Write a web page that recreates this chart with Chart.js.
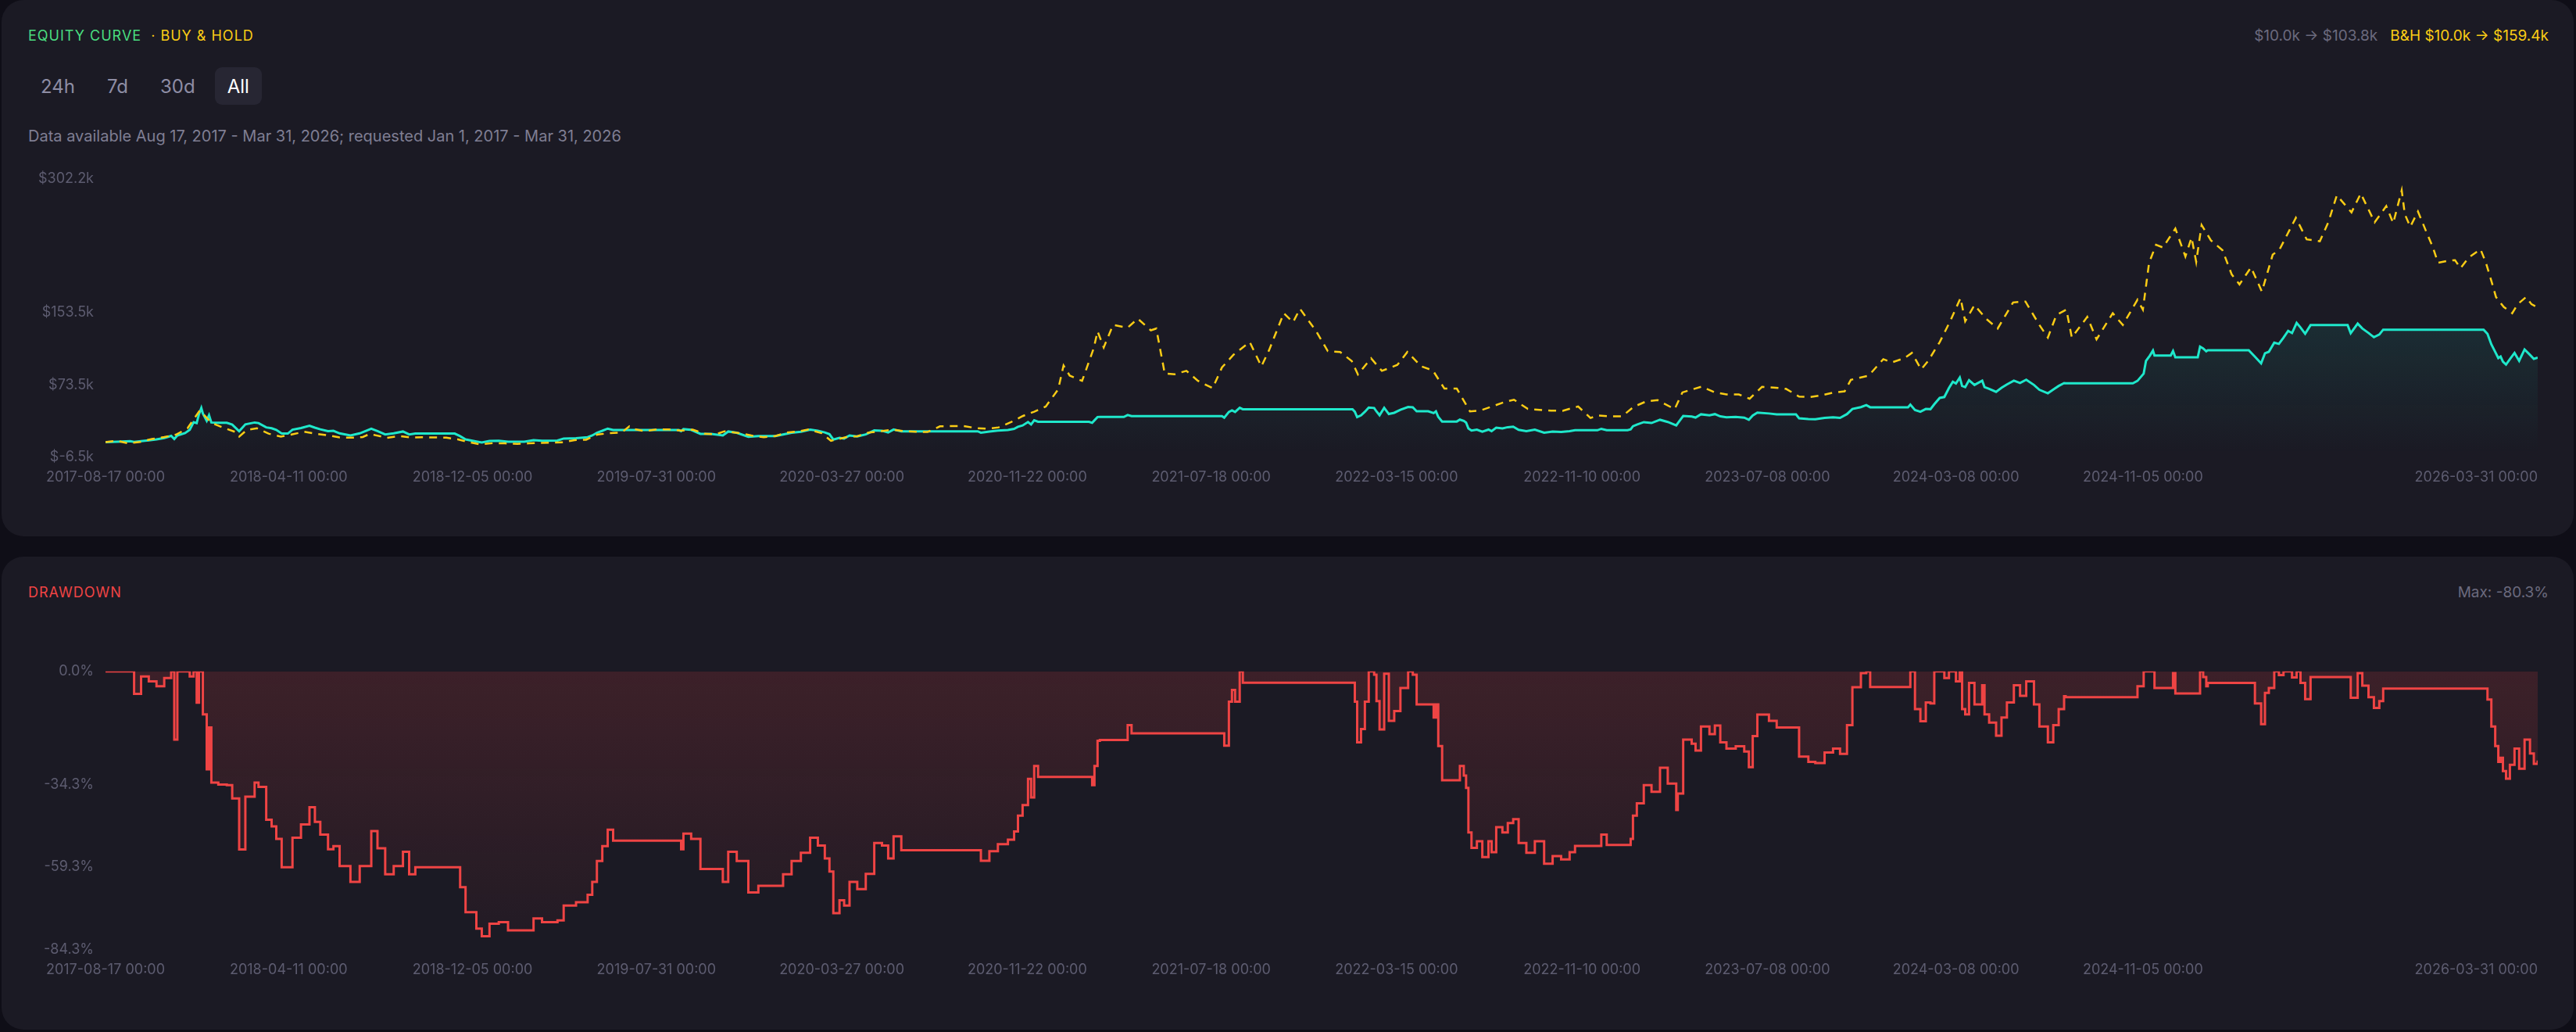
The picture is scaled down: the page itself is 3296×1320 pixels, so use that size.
<!DOCTYPE html>
<html>
<head>
<meta charset="utf-8">
<title>Equity curve</title>
<script src="https://cdn.jsdelivr.net/npm/chart.js@4.4.1/dist/chart.umd.min.js"></script>
<style>
  html, body { margin: 0; padding: 0; background: #0f0e17; }
  body { width: 3296px; height: 1320px; position: relative; overflow: hidden; font-family: Inter, "Noto Sans", sans-serif; }
  .panel { position: absolute; left: 2px; width: 3291px; background: #1b1a24; border-radius: 28px; }
  #equityPanel { top: 0; height: 686px; }
  #drawdownPanel { top: 712px; height: 605px; }
  .head { position: absolute; left: 34px; right: 32px; top: 34px; height: 24px; line-height: 24px; display: flex; justify-content: space-between; font-size: 18px; }
  .title { letter-spacing: 1px; }
  .stats { font-size: 19px; }
  .green { color: #4ade80; }
  .yellow { color: #facc15; }
  .red { color: #ef4444; }
  .muted { color: #6b6a7e; }
  .stats span + span { margin-left: 16px; }
  .dot { margin-left: 12px; }
  .ranges { position: absolute; left: 34px; top: 86px; display: flex; }
  .ranges button { height: 48px; padding: 0 16px; margin-right: 9px; border: 0; border-radius: 9px; background: transparent; color: #8e8da4; font: 24px Inter, sans-serif; }
  .ranges button.on { background: #272633; color: #ffffff; }
  .note { position: absolute; left: 34px; top: 161px; font-size: 20px; line-height: 26px; color: #7f7e93; }
  .chart { position: absolute; left: 34px; width: 3226px; }
  #equityBox { top: 203px; height: 433px; }
  #drawdownBox { top: 121px; height: 433px; }
</style>
</head>
<body>
<div class="panel" id="equityPanel">
  <div class="head">
    <div class="title"><span class="green">EQUITY CURVE</span><span class="yellow dot">· BUY &amp; HOLD</span></div>
    <div class="stats"><span class="muted">$10.0k → $103.8k</span><span class="yellow">B&amp;H $10.0k → $159.4k</span></div>
  </div>
  <div class="ranges"><button>24h</button><button>7d</button><button>30d</button><button class="on">All</button></div>
  <div class="note">Data available Aug 17, 2017 - Mar 31, 2026; requested Jan 1, 2017 - Mar 31, 2026</div>
  <div class="chart" id="equityBox"><canvas id="equityChart"></canvas></div>
</div>
<div class="panel" id="drawdownPanel">
  <div class="head">
    <div class="title red">DRAWDOWN</div>
    <div class="stats"><span class="muted">Max: -80.3%</span></div>
  </div>
  <div class="chart" id="drawdownBox"><canvas id="drawdownChart"></canvas></div>
</div>
<script>
// strategy equity (k$) and its drawdown (%), same dates
const dates = [
  '2017-08-17','2017-09-01','2017-09-18','2017-09-23','2017-10-02','2017-10-12','2017-10-22','2017-11-01','2017-11-10','2017-11-14',
  '2017-11-18','2017-11-28','2017-12-04','2017-12-09','2017-12-13','2017-12-16','2017-12-19','2017-12-21','2017-12-26','2017-12-29',
  '2018-01-01','2018-01-10','2018-01-21','2018-01-28','2018-02-06','2018-02-14','2018-02-26','2018-03-03','2018-03-13','2018-03-20',
  '2018-03-26','2018-04-02','2018-04-10','2018-04-16','2018-04-27','2018-05-08','2018-05-15','2018-05-22','2018-06-01','2018-06-08',
  '2018-06-16','2018-06-30','2018-07-12','2018-07-27','2018-08-04','2018-08-14','2018-08-25','2018-09-06','2018-09-14','2018-09-22',
  '2018-11-12','2018-11-19','2018-11-26','2018-12-10','2018-12-17','2018-12-27','2019-01-08','2019-01-20','2019-02-10','2019-02-22',
  '2019-03-05','2019-03-25','2019-04-02','2019-04-18','2019-05-03','2019-05-09','2019-05-15','2019-05-22','2019-05-29','2019-06-05',
  '2019-08-29','2019-09-01','2019-09-04','2019-09-14','2019-09-26','2019-10-10','2019-10-25','2019-11-01','2019-11-12','2019-11-27',
  '2019-12-10','2020-01-01','2020-01-11','2020-01-22','2020-02-03','2020-02-15','2020-02-25','2020-03-05','2020-03-11','2020-03-16',
  '2020-03-24','2020-03-30','2020-04-06','2020-04-16','2020-04-27','2020-05-08','2020-05-18','2020-05-26','2020-06-02','2020-06-12',
  '2020-09-19','2020-09-23','2020-10-04','2020-10-15','2020-10-28','2020-11-05','2020-11-10','2020-11-16','2020-11-23','2020-11-27',
  '2020-12-01','2020-12-06','2021-02-10','2021-02-14','2021-02-17','2021-02-21','2021-02-24','2021-03-27','2021-04-01','2021-04-06',
  '2021-08-01','2021-08-04','2021-08-10','2021-08-14','2021-08-18','2021-08-24','2021-08-28','2022-01-17','2022-01-20','2022-01-23',
  '2022-01-28','2022-02-02','2022-02-07','2022-02-14','2022-02-17','2022-02-21','2022-02-27','2022-03-05','2022-03-12','2022-03-20',
  '2022-03-30','2022-04-05','2022-04-10','2022-04-25','2022-05-02','2022-05-05','2022-05-08','2022-05-13','2022-06-01','2022-06-05',
  '2022-06-10','2022-06-13','2022-06-16','2022-06-20','2022-06-27','2022-07-04','2022-07-12','2022-07-16','2022-07-22','2022-07-30',
  '2022-08-06','2022-08-13','2022-08-20','2022-08-30','2022-09-10','2022-09-22','2022-10-03','2022-10-14','2022-10-25','2022-11-01',
  '2022-11-30','2022-12-05','2022-12-12','2023-01-08','2023-01-12','2023-01-15','2023-01-20','2023-01-29','2023-02-08','2023-02-19',
  '2023-03-01','2023-03-12','2023-03-14','2023-03-21','2023-04-01','2023-04-06','2023-04-13','2023-04-24','2023-05-01','2023-05-08',
  '2023-05-16','2023-05-28','2023-06-08','2023-06-14','2023-06-19','2023-06-25','2023-07-10','2023-07-20','2023-08-14','2023-08-18',
  '2023-08-30','2023-09-08','2023-09-20','2023-10-01','2023-10-10','2023-10-19','2023-10-26','2023-11-06','2023-11-13','2023-11-18',
  '2024-01-06','2024-01-09','2024-01-15','2024-01-22','2024-01-29','2024-02-04','2024-02-09','2024-02-16','2024-02-22','2024-02-28',
  '2024-03-04','2024-03-08','2024-03-13','2024-03-16','2024-03-20','2024-03-25','2024-04-01','2024-04-11','2024-04-14','2024-04-20',
  '2024-04-29','2024-05-06','2024-05-13','2024-05-22','2024-05-30','2024-06-07','2024-06-17','2024-06-24','2024-07-05','2024-07-12',
  '2024-07-19','2024-07-26','2024-07-28','2024-10-23','2024-10-29','2024-11-06','2024-11-09','2024-11-14','2024-11-18','2024-11-20',
  '2024-12-11','2024-12-14','2024-12-17','2025-01-15','2025-01-18','2025-01-22','2025-01-26','2025-01-28','2025-03-22','2025-03-30',
  '2025-04-07','2025-04-12','2025-04-17','2025-04-24','2025-04-30','2025-05-06','2025-05-12','2025-05-17','2025-05-23','2025-05-28',
  '2025-06-03','2025-06-10','2025-07-28','2025-08-01','2025-08-10','2025-08-16','2025-08-24','2025-08-31','2025-09-07','2025-09-12',
  '2026-01-20','2026-01-25','2026-01-30','2026-02-04','2026-02-08','2026-02-11','2026-02-14','2026-02-18','2026-02-23','2026-03-01',
  '2026-03-07','2026-03-14','2026-03-21','2026-03-26','2026-03-31'
];
const equity = [
  10.0, 10.4, 10.9, 10.2, 11.0, 11.9, 12.9, 14.5, 16.9, 13.4,
  17.3, 20.0, 23.5, 32.0, 31.0, 41.0, 47.8, 41.6, 33.6, 39.7,
  31.7, 31.4, 31.3, 29.4, 22.0, 29.6, 31.7, 31.1, 26.3, 25.3,
  23.5, 19.4, 19.4, 23.7, 25.6, 28.1, 26.0, 24.1, 22.0, 22.5,
  19.6, 17.3, 19.6, 24.7, 22.2, 18.4, 19.6, 21.7, 18.4, 19.4,
  19.4, 16.5, 12.9, 10.5, 9.4, 11.2, 11.5, 10.3, 10.3, 12.0,
  11.5, 11.7, 13.9, 14.3, 15.4, 17.3, 20.3, 22.5, 24.9, 23.3,
  23.3, 22.0, 24.3, 23.5, 19.1, 19.1, 17.3, 21.7, 20.3, 15.8,
  16.7, 16.7, 18.4, 20.3, 21.5, 23.7, 22.6, 20.7, 18.8, 12.8,
  14.6, 13.9, 17.3, 16.3, 18.5, 22.9, 22.6, 20.7, 23.9, 21.9,
  21.9, 20.4, 21.7, 22.8, 23.4, 24.6, 26.9, 28.4, 32.2, 29.5,
  34.1, 32.5, 32.5, 31.3, 34.1, 37.8, 37.9, 37.9, 40.0, 38.8,
  38.8, 37.0, 43.4, 45.1, 43.4, 48.0, 46.4, 46.4, 43.6, 37.7,
  39.6, 43.6, 48.3, 47.8, 44.0, 39.8, 48.0, 41.1, 42.5, 45.9,
  49.0, 48.5, 44.1, 44.1, 42.1, 44.1, 37.9, 32.8, 32.8, 34.9,
  33.5, 31.7, 25.1, 22.8, 23.8, 21.4, 23.8, 22.1, 25.9, 25.1,
  26.5, 27.0, 23.5, 22.0, 23.8, 20.4, 21.6, 21.1, 22.1, 23.1,
  23.1, 24.7, 23.2, 23.2, 24.1, 27.6, 29.4, 32.1, 31.1, 34.7,
  32.3, 28.4, 30.9, 38.9, 38.3, 37.2, 40.8, 39.7, 41.0, 38.5,
  37.5, 37.9, 37.1, 34.8, 39.4, 42.6, 41.7, 40.7, 40.7, 36.4,
  35.6, 35.4, 36.9, 37.5, 36.8, 41.0, 46.7, 48.8, 51.0, 48.6,
  48.6, 51.5, 45.6, 43.7, 46.7, 46.5, 52.0, 59.0, 60.0, 70.0,
  77.0, 75.0, 81.6, 72.3, 71.0, 78.7, 73.4, 78.2, 71.0, 69.0,
  65.7, 70.2, 73.9, 78.2, 75.6, 79.2, 73.4, 68.0, 64.1, 68.3,
  72.3, 75.5, 75.2, 75.2, 77.9, 86.0, 100.0, 106.0, 111.6, 106.0,
  106.0, 111.0, 104.1, 104.1, 116.0, 114.0, 110.8, 111.9, 111.9, 104.7,
  97.4, 108.5, 110.2, 120.3, 119.0, 126.0, 133.4, 131.0, 142.2, 137.2,
  130.3, 139.8, 139.8, 130.8, 141.5, 136.1, 131.1, 126.4, 129.4, 134.8,
  134.8, 130.1, 118.5, 110.1, 103.2, 104.9, 99.3, 96.0, 102.0, 108.9,
  100.2, 112.8, 106.8, 102.4, 103.8
];
const drawdown = [
  0, 0, 0, -6.8, -1.5, -3.0, -4.5, -2.0, 0, -20.7,
  0, 0, -1.5, 0, -9.5, 0, 0, -13.0, -29.7, -17.0,
  -33.7, -34.3, -34.5, -38.5, -54.0, -38.0, -33.7, -35.0, -45.0, -47.0,
  -50.8, -59.4, -59.4, -50.4, -46.4, -41.2, -45.6, -49.5, -53.9, -53.0,
  -59.0, -63.8, -59.0, -48.4, -53.6, -61.5, -59.0, -54.7, -61.5, -59.4,
  -59.4, -65.4, -73.0, -78.0, -80.3, -76.5, -76.0, -78.5, -78.5, -74.9,
  -76.0, -75.5, -71.0, -70.0, -67.7, -63.8, -57.5, -53.0, -48.0, -51.3,
  -51.3, -53.9, -49.2, -50.8, -59.9, -59.9, -63.8, -54.7, -57.5, -67.0,
  -65.0, -65.0, -61.5, -57.5, -55.0, -50.4, -52.8, -56.7, -60.7, -73.3,
  -69.4, -71.0, -63.8, -66.0, -61.4, -52.0, -52.8, -56.7, -50.0, -54.2,
  -54.2, -57.4, -54.5, -52.4, -51.0, -48.5, -43.7, -40.5, -32.6, -38.2,
  -28.7, -32.0, -32.0, -34.5, -28.7, -21.0, -20.8, -20.8, -16.3, -18.8,
  -18.8, -22.5, -9.2, -5.6, -9.2, 0, -3.4, -3.4, -9.2, -21.5,
  -17.5, -9.2, 0, -1.0, -9.0, -17.6, -0.7, -15.0, -12.0, -5.0,
  0, -1.0, -10.0, -10.0, -14.0, -10.0, -22.6, -33.0, -33.0, -28.7,
  -31.6, -35.3, -48.8, -53.5, -51.5, -56.3, -51.5, -54.8, -47.2, -48.8,
  -46.0, -44.8, -52.0, -55.0, -51.5, -58.3, -56.0, -57.0, -54.8, -52.9,
  -52.9, -49.5, -52.6, -52.6, -50.8, -43.7, -40.0, -34.5, -36.5, -29.2,
  -34.0, -42.0, -37.0, -20.7, -21.9, -24.0, -16.7, -19.0, -16.4, -21.5,
  -23.4, -22.7, -24.3, -29.0, -19.6, -13.1, -15.0, -17.0, -17.0, -25.8,
  -27.4, -27.8, -24.6, -23.4, -25.0, -16.3, -4.8, -0.5, 0, -4.7,
  -4.7, 0, -11.4, -15.1, -9.4, -9.7, 0, 0, -2.0, 0,
  0, -3.0, 0, -11.4, -13.0, -3.5, -10.0, -4.2, -13.0, -15.5,
  -19.5, -14.0, -9.4, -4.2, -7.4, -3.0, -10.0, -16.7, -21.5, -16.3,
  -11.4, -7.5, -7.8, -7.8, -4.5, 0, 0, 0, 0, -5.0,
  -5.0, -0.5, -6.7, -6.7, 0, -1.7, -4.5, -3.5, -3.5, -9.7,
  -16.0, -6.5, -5.0, 0, -1.1, 0, 0, -1.8, 0, -3.5,
  -8.4, -1.7, -1.7, -8.0, -0.5, -4.3, -7.8, -11.1, -9.0, -5.2,
  -5.2, -8.5, -16.7, -22.6, -27.4, -26.2, -30.2, -32.5, -28.3, -23.4,
  -29.5, -20.7, -24.9, -28.0, -27.0
];

// buy & hold (k$)
const bhDates = [
  '2017-08-17','2017-09-01','2017-09-15','2017-10-01','2017-10-16','2017-11-01','2017-11-16','2017-12-01','2017-12-17','2018-01-01',
  '2018-01-16','2018-02-01','2018-02-06','2018-02-16','2018-03-01','2018-03-16','2018-04-01','2018-04-16','2018-05-01','2018-05-16',
  '2018-06-01','2018-06-16','2018-07-01','2018-07-16','2018-07-25','2018-08-16','2018-09-01','2018-09-16','2018-10-01','2018-10-16',
  '2018-11-01','2018-11-16','2018-12-01','2018-12-15','2019-01-01','2019-01-16','2019-02-01','2019-02-16','2019-03-01','2019-03-16',
  '2019-04-01','2019-04-16','2019-05-01','2019-05-16','2019-06-01','2019-06-16','2019-06-26','2019-07-01','2019-07-16','2019-08-01',
  '2019-08-16','2019-09-01','2019-09-16','2019-10-01','2019-10-16','2019-10-27','2019-11-01','2019-11-16','2019-12-01','2019-12-17',
  '2020-01-01','2020-01-16','2020-02-01','2020-02-13','2020-03-01','2020-03-13','2020-04-01','2020-04-16','2020-05-01','2020-05-16',
  '2020-06-01','2020-06-16','2020-07-01','2020-07-16','2020-08-01','2020-08-16','2020-09-01','2020-09-16','2020-10-01','2020-10-16',
  '2020-11-01','2020-11-16','2020-12-01','2020-12-16','2021-01-01','2021-01-08','2021-01-16','2021-02-01','2021-02-16','2021-02-21',
  '2021-03-01','2021-03-13','2021-04-01','2021-04-14','2021-05-01','2021-05-08','2021-05-19','2021-06-01','2021-06-16','2021-07-01',
  '2021-07-20','2021-08-01','2021-08-16','2021-09-06','2021-09-21','2021-10-01','2021-10-20','2021-11-01','2021-11-10','2021-12-01',
  '2021-12-16','2022-01-01','2022-01-16','2022-01-24','2022-02-10','2022-02-24','2022-03-16','2022-03-29','2022-04-16','2022-05-01',
  '2022-05-16','2022-06-01','2022-06-18','2022-07-01','2022-07-16','2022-08-01','2022-08-14','2022-09-01','2022-09-16','2022-10-01',
  '2022-10-16','2022-11-05','2022-11-21','2022-12-01','2022-12-16','2023-01-01','2023-01-16','2023-02-01','2023-02-16','2023-03-10',
  '2023-03-20','2023-04-14','2023-05-01','2023-05-16','2023-06-01','2023-06-15','2023-07-01','2023-07-16','2023-08-01','2023-08-18',
  '2023-09-01','2023-09-16','2023-10-01','2023-10-16','2023-10-24','2023-11-16','2023-12-05','2023-12-16','2024-01-01','2024-01-11',
  '2024-01-23','2024-02-01','2024-02-16','2024-03-01','2024-03-14','2024-03-20','2024-04-01','2024-04-16','2024-05-01','2024-05-21',
  '2024-06-06','2024-06-24','2024-07-05','2024-07-16','2024-07-29','2024-08-05','2024-08-25','2024-09-06','2024-09-27','2024-10-10',
  '2024-10-29','2024-11-05','2024-11-13','2024-11-22','2024-12-01','2024-12-17','2024-12-30','2025-01-07','2025-01-13','2025-01-20',
  '2025-02-01','2025-02-16','2025-02-28','2025-03-10','2025-03-25','2025-04-08','2025-04-22','2025-05-01','2025-05-22','2025-06-05',
  '2025-06-22','2025-07-03','2025-07-14','2025-08-02','2025-08-14','2025-09-01','2025-09-16','2025-09-25','2025-10-06','2025-10-10',
  '2025-10-17','2025-10-27','2025-11-08','2025-11-15','2025-11-22','2025-12-03','2025-12-14','2025-12-21','2026-01-01','2026-01-16',
  '2026-01-23','2026-01-31','2026-02-05','2026-02-15','2026-02-26','2026-03-05','2026-03-16','2026-03-23','2026-03-31'
];
const bhValues = [
  10.0, 11.4, 8.6, 10.2, 13.3, 15.6, 18.1, 25.1, 45.1, 31.4,
  26.0, 21.2, 16.0, 23.5, 25.3, 19.3, 16.0, 18.6, 21.4, 19.3,
  17.4, 15.1, 14.8, 15.6, 19.0, 14.7, 16.7, 15.1, 15.3, 15.1,
  14.8, 13.0, 9.8, 7.4, 8.8, 8.5, 8.0, 8.5, 9.0, 9.3,
  9.7, 12.1, 12.6, 18.4, 19.9, 20.5, 27.5, 24.7, 21.9, 24.2,
  24.0, 22.7, 23.8, 19.3, 18.6, 21.9, 21.4, 19.8, 17.2, 15.3,
  16.7, 20.5, 21.9, 24.0, 19.8, 11.4, 15.3, 16.5, 20.5, 21.9,
  23.7, 22.1, 21.4, 21.2, 27.4, 27.7, 27.7, 25.6, 24.7, 26.3,
  32.1, 38.8, 43.7, 49.5, 68.4, 95.0, 83.7, 77.9, 114, 133,
  115, 140, 137, 147, 134, 136, 86, 85.3, 89.1, 77.9,
  69.8, 92.8, 107, 121, 94, 112, 153, 143, 158, 133,
  111, 110, 100, 85, 103, 89, 95.6, 110, 94, 89.5,
  69.3, 69.3, 44, 44.9, 49.3, 54.2, 57, 46.7, 45.8, 44.9,
  44.7, 49.5, 36.7, 39.5, 38.6, 38.6, 49.1, 55.1, 56.5, 46.5,
  65.1, 71.6, 65.1, 62.8, 62.8, 58.1, 71.2, 70.5, 69.1, 60.5,
  60, 61.9, 64.9, 66.3, 79.1, 83.7, 102, 98.4, 103, 109,
  90.7, 100, 121, 145, 170, 144, 162, 147, 136, 165,
  166, 140, 126, 151, 157, 126, 149, 124, 153, 140,
  168, 157, 209, 229, 226, 247, 216, 237, 210, 251,
  234, 223, 196, 185, 204, 177, 218, 224, 259, 235,
  233, 254, 284, 265, 286, 254, 272, 253, 289.5, 263,
  249, 266, 241, 227, 209, 211, 212, 203, 215, 224,
  209, 186, 171, 160, 153, 163, 171, 163, 159.4
];

const endDate = '2026-03-31';
const xTickDates = ['2017-08-17','2018-04-11','2018-12-05','2019-07-31','2020-03-27','2020-11-22','2021-07-18',
  '2022-03-15','2022-11-10','2023-07-08','2024-03-08','2024-11-05','2026-03-31'];
const equityTicks = [302.2, 153.5, 73.5, -6.5];
const drawdownTicks = [0, -34.3, -59.3, -84.3];

function dayOf(s) {
  return (Date.parse(s + 'T00:00:00Z') - Date.parse(dates[0] + 'T00:00:00Z')) / 864e5;
}
function points(ds, vs) {
  return ds.map((d, i) => ({ x: dayOf(d), y: vs[i] }));
}
function fade(top, bottom) {
  return (c) => {
    const { ctx, chartArea } = c.chart;
    if (!chartArea) return 'transparent';
    const g = ctx.createLinearGradient(0, chartArea.top, 0, chartArea.bottom);
    g.addColorStop(0, top);
    g.addColorStop(1, bottom);
    return g;
  };
}

Chart.defaults.font.family = 'Inter, sans-serif';
Chart.defaults.font.size = 18;
Chart.defaults.color = '#5d5c70';

function xAxis() {
  return {
    type: 'linear', min: 0, max: dayOf(endDate),
    grid: { display: false, drawTicks: false }, border: { display: false },
    // blank first tick so 'inner' alignment only pins the last label to the edge
    afterBuildTicks: (axis) => { axis.ticks = [{ value: 0 }].concat(xTickDates.map(d => ({ value: dayOf(d) }))); },
    ticks: { autoSkip: false, maxRotation: 0, align: 'inner', padding: 15,
      callback: (v, i) => i === 0 ? '' : xTickDates[i - 1] + ' 00:00' }
  };
}
function yAxis(min, max, tickValues, fmt) {
  return {
    min: min, max: max,
    grid: { display: false, drawTicks: false }, border: { display: false },
    afterBuildTicks: (axis) => { axis.ticks = tickValues.map(v => ({ value: v })); },
    afterFit: (axis) => { axis.width = 99; },
    ticks: { padding: 15, callback: fmt }
  };
}
const baseOptions = {
  responsive: true, maintainAspectRatio: false, animation: false,
  layout: { padding: { right: 10 } },
  plugins: { legend: { display: false }, tooltip: { enabled: false } },
  elements: { point: { radius: 0 } }
};

new Chart(document.getElementById('equityChart'), {
  type: 'line',
  data: {
    datasets: [
      { label: 'Buy & Hold', data: points(bhDates, bhValues), borderColor: '#facc15', borderWidth: 2.5,
        borderDash: [10, 8], fill: false, tension: 0 },
      { label: 'Strategy', data: points(dates, equity), borderColor: '#1fe8cb', borderWidth: 3,
        fill: 'origin', backgroundColor: fade('rgba(31,232,203,0.20)', 'rgba(31,232,203,0)'), tension: 0 }
    ]
  },
  options: Object.assign({}, baseOptions, {
    scales: { x: xAxis(), y: yAxis(-6.5, 302.2, equityTicks, v => '$' + v.toFixed(1) + 'k') }
  })
});

new Chart(document.getElementById('drawdownChart'), {
  type: 'line',
  data: {
    datasets: [
      { label: 'Drawdown', data: points(dates, drawdown), borderColor: '#ef4444', borderWidth: 3,
        stepped: true, fill: 'origin', backgroundColor: fade('rgba(239,68,68,0.16)', 'rgba(239,68,68,0.03)') }
    ]
  },
  options: Object.assign({}, baseOptions, {
    scales: { x: xAxis(), y: yAxis(-84.3, 0, drawdownTicks, v => v.toFixed(1) + '%') }
  })
});
</script>
</body>
</html>
